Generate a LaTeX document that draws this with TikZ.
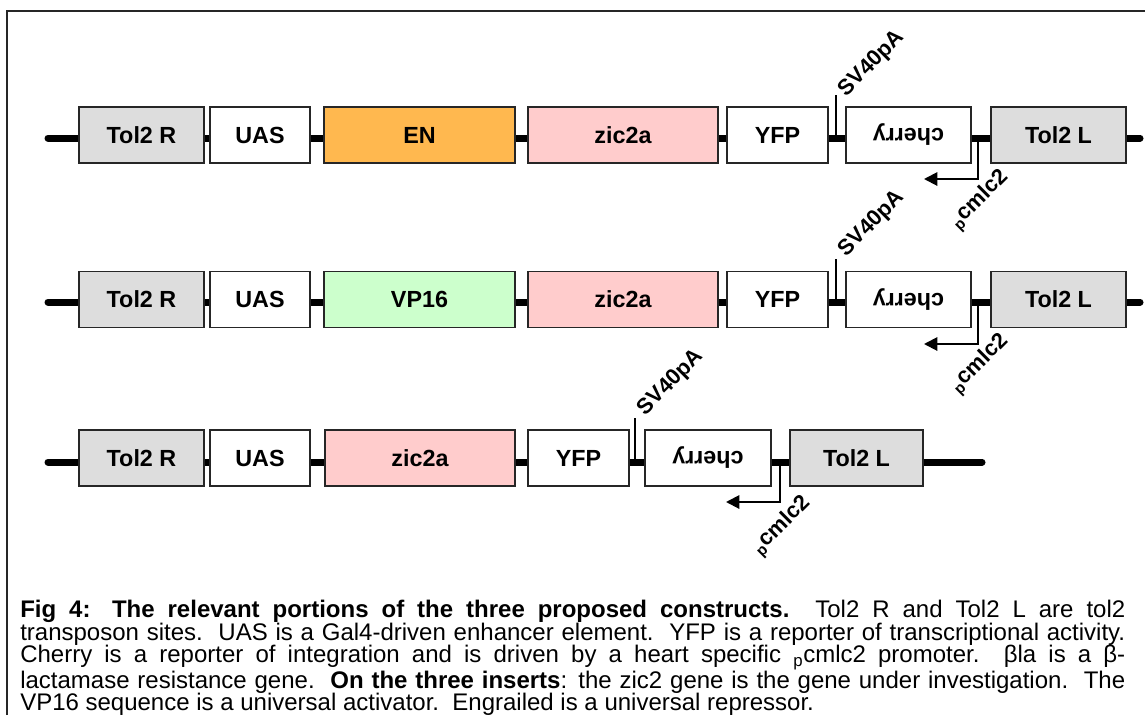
\documentclass[tikz,border=0pt]{standalone}
\usepackage{fontspec}
\setmainfont{Liberation Sans}
\usepackage{tikz}
\usetikzlibrary{arrows.meta}

\definecolor{tolgray}{RGB}{221,221,221}
\definecolor{enorange}{RGB}{255,184,79}
\definecolor{zicpink}{RGB}{255,204,204}
\definecolor{vpgreen}{RGB}{204,255,204}

\tikzset{
  gene/.style={draw=black!85, line width=0.9pt, fill=white, minimum height=42pt, inner sep=0pt, font=\bfseries\fontsize{17.5}{20}\selectfont},
  backbone/.style={line width=5.25pt, line cap=round},
  sitetick/.style={line width=1.1pt},
  promo/.style={line width=1.5pt, -{Triangle[length=10pt,width=10pt]}},
  sitelbl/.style={font=\bfseries\fontsize{16.5}{18}\selectfont, rotate=45, inner sep=0pt},
}

\begin{document}
\begin{tikzpicture}[x=0.75pt,y=0.75pt,yscale=-1,xscale=1]
\useasboundingbox (0,0) rectangle (1145,715);

%Frame
\draw [line width=1.3pt, black!85] (7,715) -- (7,11) -- (1145,11) ;

%Backbones
\coordinate (r1start) at (48,138);
\coordinate (r1end) at (1140,138);
\draw [backbone] (r1start) -- (r1end) ;
\coordinate (r2start) at (48,302);
\coordinate (r2end) at (1140,302);
\draw [backbone] (r2start) -- (r2end) ;
\coordinate (r3start) at (48,462);
\coordinate (r3end) at (982,462);
\draw [backbone] (r3start) -- (r3end) ;

%SV40pA sites
\coordinate (r1sv) at (836,138);
\coordinate (r1svtop) at (836,95);
\draw [sitetick] (r1sv) -- (r1svtop) ;
\coordinate (r2sv) at (836,302);
\coordinate (r2svtop) at (836,259);
\draw [sitetick] (r2sv) -- (r2svtop) ;
\coordinate (r3sv) at (635,462);
\coordinate (r3svtop) at (635,418);
\draw [sitetick] (r3sv) -- (r3svtop) ;

%pcmlc2 promoters
\coordinate (r1pr) at (978,138);
\coordinate (r1prtip) at (924,179);
\draw [promo] (r1pr) |- (r1prtip) ;
\coordinate (r2pr) at (978,302);
\coordinate (r2prtip) at (924,344);
\draw [promo] (r2pr) |- (r2prtip) ;
\coordinate (r3pr) at (780,462);
\coordinate (r3prtip) at (726,502);
\draw [promo] (r3pr) |- (r3prtip) ;

% Row 1
\node [gene, fill=tolgray, minimum width=93.75pt] (r1tolR) at (141.5,135) {Tol2 R};
\node [gene, minimum width=75pt] (r1uas) at (260,135) {UAS};
\node [gene, fill=enorange, minimum width=143.25pt] (r1en) at (419.5,135) {EN};
\node [gene, fill=zicpink, minimum width=142.5pt] (r1zic) at (623,135) {zic2a};
\node [gene, minimum width=75.75pt] (r1yfp) at (777.5,135) {YFP};
\node [gene, minimum width=93.75pt, rotate=180] (r1cherry) at (908.5,135) {cherry};
\node [gene, fill=tolgray, minimum width=101.25pt] (r1tolL) at (1058.5,135) {Tol2 L};

% Row 2
\node [gene, fill=tolgray, minimum width=93.75pt] (r2tolR) at (141.5,299.5) {Tol2 R};
\node [gene, minimum width=75pt] (r2uas) at (260,299.5) {UAS};
\node [gene, fill=vpgreen, minimum width=143.25pt] (r2vp) at (419.5,299.5) {VP16};
\node [gene, fill=zicpink, minimum width=142.5pt] (r2zic) at (623,299.5) {zic2a};
\node [gene, minimum width=75.75pt] (r2yfp) at (777.5,299.5) {YFP};
\node [gene, minimum width=93.75pt, rotate=180] (r2cherry) at (908.5,299.5) {cherry};
\node [gene, fill=tolgray, minimum width=101.25pt] (r2tolL) at (1058.5,299.5) {Tol2 L};

% Row 3
\node [gene, fill=tolgray, minimum width=93.75pt] (r3tolR) at (141.5,458) {Tol2 R};
\node [gene, minimum width=75pt] (r3uas) at (260,458) {UAS};
\node [gene, fill=zicpink, minimum width=142.5pt] (r3zic) at (420,458) {zic2a};
\node [gene, minimum width=75.75pt] (r3yfp) at (578.5,458) {YFP};
\node [gene, minimum width=94.5pt, rotate=180] (r3cherry) at (708,458) {cherry};
\node [gene, fill=tolgray, minimum width=99.75pt] (r3tolL) at (856.5,458) {Tol2 L};

% Site labels
\node [sitelbl] (r1svlbl) at (872,64) {SV40pA};
\node [sitelbl] (r2svlbl) at (872,224) {SV40pA};
\node [sitelbl] (r3svlbl) at (671,383) {SV40pA};
\node [sitelbl] (r1prlbl) at (980,200) {\textsubscript{p}cmlc2};
\node [sitelbl] (r2prlbl) at (980,364) {\textsubscript{p}cmlc2};
\node [sitelbl] (r3prlbl) at (782,526) {\textsubscript{p}cmlc2};

% Caption
\node [anchor=north west, inner sep=0pt, text width=828.75pt, align=justify, font=\fontsize{18}{16.9}\selectfont] (caption) at (20,600) {\textbf{Fig 4: The relevant portions of the three proposed constructs.}\ \ Tol2 R and Tol2 L are tol2\linebreak
transposon sites.\ \ UAS is a Gal4-driven enhancer element.\ \ YFP is a reporter of transcriptional activity.\linebreak
Cherry is a reporter of integration and is driven by a heart specific \textsubscript{p}cmlc2 promoter.\ \ βla is a β-\linebreak
lactamase resistance gene.\ \ \textbf{On the three inserts}: the zic2 gene is the gene under investigation.\ \ The\linebreak
VP16 sequence is a universal activator.\ \ Engrailed is a universal repressor.};

\end{tikzpicture}
\end{document}
